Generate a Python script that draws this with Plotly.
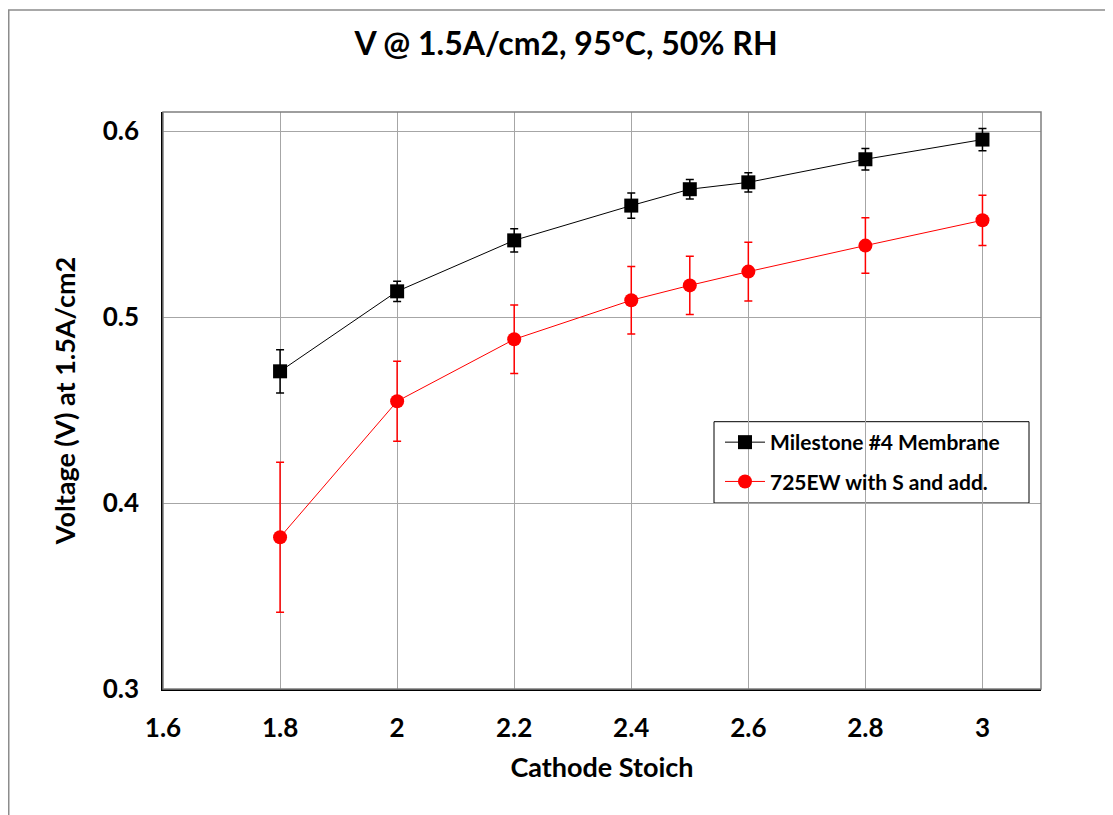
import plotly.graph_objects as go

stoich = [1.8, 2.0, 2.2, 2.4, 2.5, 2.6, 2.8, 3.0]

milestone_v = [0.4708, 0.5138, 0.5412, 0.5599, 0.5687, 0.5724, 0.5848, 0.5954]
milestone_err = [0.0116, 0.0054, 0.0062, 0.0068, 0.0052, 0.0052, 0.0058, 0.0060]

ew725_v = [0.3816, 0.4547, 0.4880, 0.5090, 0.5170, 0.5244, 0.5384, 0.5520]
ew725_err = [0.0403, 0.0215, 0.0184, 0.0181, 0.0156, 0.0158, 0.0149, 0.0135]

series_names = ["Milestone #4 Membrane", "725EW with S and add."]
x_ticks = [1.6, 1.8, 2.0, 2.2, 2.4, 2.6, 2.8, 3.0]
x_tick_text = ["1.6", "1.8", "2", "2.2", "2.4", "2.6", "2.8", "3"]
y_ticks = [0.3, 0.4, 0.5, 0.6]
y_tick_text = ["0.3", "0.4", "0.5", "0.6"]

FONT = "Lato"

# the page body adds an 8px offset; work in page pixels and convert
OFF = 8
FW, FH = 1113 - OFF, 815 - OFF
L, R, T, B = 163 - OFF, 1041 - OFF, 112 - OFF, 689 - OFF
W, H = R - L, B - T

def px(xp):
    return (xp - OFF - L) / W

def py(yp):
    return (B - (yp - OFF)) / H

fig = go.Figure()
fig.add_trace(go.Scatter(
    x=stoich, y=milestone_v, name=series_names[0], mode="lines+markers",
    legendgroup="a",
    line=dict(color="black", width=1),
    marker=dict(symbol="square", size=14, color="black"),
    error_y=dict(type="data", array=milestone_err, visible=True, color="black", thickness=1.5, width=4),
))
fig.add_trace(go.Scatter(
    x=stoich, y=ew725_v, name=series_names[1], mode="lines+markers",
    legendgroup="b",
    line=dict(color="#FF0000", width=1),
    marker=dict(symbol="circle", size=14, color="#FF0000"),
    error_y=dict(type="data", array=ew725_err, visible=True, color="#FF0000", thickness=1.5, width=4),
))

# outer chart border
fig.add_shape(type="rect", xref="paper", yref="paper",
              x0=px(8.75), x1=px(1125), y0=py(840), y1=py(10),
              line=dict(color="#8C8C8C", width=1.5), layer="below")
# plot area frame (top/right gray)
fig.add_shape(type="rect", xref="paper", yref="paper",
              x0=0, x1=1, y0=0, y1=1,
              line=dict(color="#7F7F7F", width=1.5), layer="above")
# legend box
fig.add_shape(type="rect", xref="paper", yref="paper",
              x0=px(714), x1=px(1029), y0=py(503), y1=py(421.7),
              line=dict(color="black", width=1), fillcolor="white", layer="below")

fig.update_layout(
    width=FW, height=FH,
    margin=dict(l=L, r=FW - R, t=T, b=FH - B),
    paper_bgcolor="white", plot_bgcolor="white",
    title=dict(text="V @ 1.5A/cm2, 95°C, 50% RH", x=(566 - OFF) / FW, xref="container",
               y=1 - (44 - OFF) / FH, yref="container", yanchor="middle", xanchor="center",
               font=dict(family=FONT, size=32, color="black", weight="bold")),
    legend=dict(x=px(720), y=py(422), xanchor="left", yanchor="top",
                borderwidth=0, bgcolor="rgba(0,0,0,0)",
                font=dict(family=FONT, size=21, color="black", weight="bold"),
                tracegroupgap=9, itemwidth=40),
    showlegend=True,
)

fig.update_xaxes(
    range=[1.6, 3.1], tickvals=x_ticks, ticktext=x_tick_text,
    showgrid=True, gridcolor="#A6A6A6", gridwidth=1,
    showline=True, linecolor="black", linewidth=1.5, mirror=False,
    zeroline=False, ticks="", ticklabelstandoff=15,
    tickfont=dict(family=FONT, size=26, color="black", weight="bold"),
    title=dict(text="Cathode Stoich", standoff=16,
               font=dict(family=FONT, size=27, color="black", weight="bold")),
)
fig.update_yaxes(
    range=[0.3, 0.3 + 0.1 * H / 186], tickvals=y_ticks, ticktext=y_tick_text,
    showgrid=True, gridcolor="#A6A6A6", gridwidth=1,
    showline=True, linecolor="black", linewidth=1.5, mirror=False,
    zeroline=False, ticks="", ticklabelstandoff=17,
    tickfont=dict(family=FONT, size=26, color="black", weight="bold"),
    title=dict(text="Voltage (V) at 1.5A/cm2", standoff=19,
               font=dict(family=FONT, size=27, color="black", weight="bold")),
)

fig.write_html("out.html")
